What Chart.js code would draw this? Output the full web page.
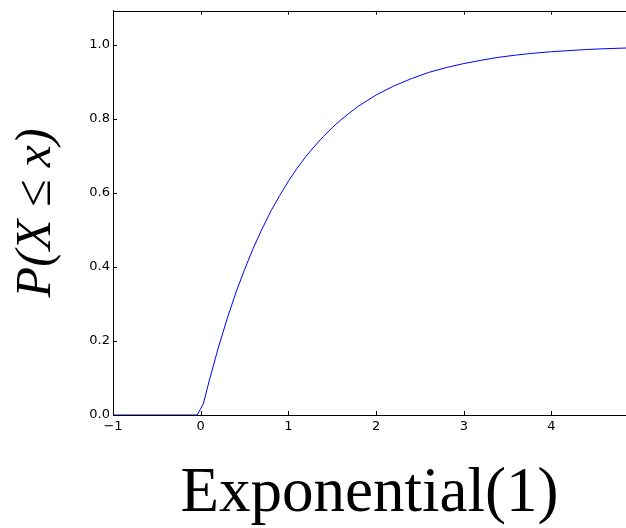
<!DOCTYPE html>
<html>
<head>
<meta charset="utf-8">
<script src="https://cdn.jsdelivr.net/npm/chart.js@4.4.0/dist/chart.umd.min.js"></script>
<style>
  html, body { margin: 0; padding: 0; background: #ffffff; overflow: hidden; }
  canvas { display: block; }
</style>
</head>
<body>
<canvas id="c" width="626" height="528"></canvas>
<script>
// Values
const xValues = [-1, -0.04, 0.03, 0.1, 0.2, 0.3, 0.4, 0.5, 0.6, 0.7, 0.8, 0.9, 1.0,
  1.1, 1.2, 1.3, 1.4, 1.5, 1.6, 1.7, 1.8, 1.9, 2.0, 2.2, 2.4, 2.6, 2.8, 3.0,
  3.2, 3.4, 3.6, 3.8, 4.0, 4.2, 4.4, 4.6, 4.85];
const cdfValues = [0, 0, 0.03, 0.095, 0.181, 0.259, 0.330, 0.393, 0.451, 0.503, 0.551, 0.593, 0.632,
  0.667, 0.699, 0.727, 0.753, 0.777, 0.798, 0.817, 0.835, 0.850, 0.865, 0.889, 0.909, 0.926, 0.939, 0.950,
  0.959, 0.967, 0.973, 0.978, 0.982, 0.985, 0.988, 0.990, 0.992];
const xTicks = [-1, 0, 1, 2, 3, 4];
const yTicks = [0.0, 0.2, 0.4, 0.6, 0.8, 1.0];
const xLabel = 'Exponential(1)';
const yLabel = 'P(X \u2264 x)';

const points = xValues.map((x, i) => ({ x: x, y: cdfValues[i] }));

const frameTicks = {
  id: 'frameTicks',
  afterDraw(chart) {
    const { ctx, chartArea } = chart;
    const xs = chart.scales.x, ys = chart.scales.y;
    ctx.save();
    ctx.strokeStyle = '#000000';
    ctx.lineWidth = 1;
    ctx.beginPath();
    const topY = Math.round(chartArea.top) + 0.5;
    ctx.moveTo(chartArea.left, topY);
    ctx.lineTo(chartArea.right, topY);
    xs.ticks.forEach(t => {
      const px = Math.round(xs.getPixelForValue(t.value)) + 0.5;
      ctx.moveTo(px, chartArea.bottom);
      ctx.lineTo(px, chartArea.bottom - 4);
      ctx.moveTo(px, chartArea.top);
      ctx.lineTo(px, chartArea.top + 4);
    });
    ys.ticks.forEach(t => {
      const py = Math.round(ys.getPixelForValue(t.value)) + 0.5;
      ctx.moveTo(chartArea.left, py);
      ctx.lineTo(chartArea.left + 4, py);
    });
    ctx.stroke();
    ctx.restore();
  }
};

new Chart(document.getElementById('c'), {
  type: 'scatter',
  data: {
    datasets: [{
      data: points,
      showLine: true,
      borderColor: '#0000ff',
      borderWidth: 1,
      pointRadius: 0,
      tension: 0,
      fill: false
    }]
  },
  options: {
    responsive: false,
    animation: false,
    devicePixelRatio: 1,
    layout: { padding: { top: 9, right: 0, left: 0, bottom: 0 } },
    plugins: { legend: { display: false }, tooltip: { enabled: false } },
    scales: {
      x: {
        type: 'linear',
        min: -1,
        max: 4.85,
        afterBuildTicks: s => { s.ticks = xTicks.map(v => ({ value: v })); },
        afterFit: s => { s.height = 113; },
        grid: { display: true, drawOnChartArea: false, drawTicks: false, color: 'rgba(0,0,0,0)' },
        border: { display: true, color: '#000000', width: 1 },
        ticks: {
          color: '#000000',
          padding: 4,
          maxRotation: 0,
          autoSkip: false,
          font: { family: 'DejaVu Sans', size: 13 },
          callback: v => (v < 0 ? '\u2212' + Math.abs(v) : String(v))
        },
        title: {
          display: true,
          text: xLabel,
          color: '#000000',
          padding: { top: 0, bottom: -4 },
          font: { family: 'Liberation Serif', size: 63, weight: 'normal' }
        }
      },
      y: {
        type: 'linear',
        min: 0,
        max: 1.0926,
        afterBuildTicks: s => { s.ticks = yTicks.map(v => ({ value: v })); },
        afterFit: s => { s.width = 113; },
        grid: { display: true, drawOnChartArea: false, drawTicks: false, color: 'rgba(0,0,0,0)' },
        border: { display: true, color: '#000000', width: 1 },
        ticks: {
          color: '#000000',
          padding: 3,
          autoSkip: false,
          font: { family: 'DejaVu Sans', size: 13 },
          callback: v => Number(v).toFixed(1)
        },
        title: {
          display: true,
          text: yLabel,
          color: '#000000',
          padding: { top: 7, bottom: 0 },
          font: { family: 'Liberation Serif', size: 50, style: 'italic', weight: 'normal' }
        }
      }
    }
  },
  plugins: [frameTicks]
});
</script>
</body>
</html>
